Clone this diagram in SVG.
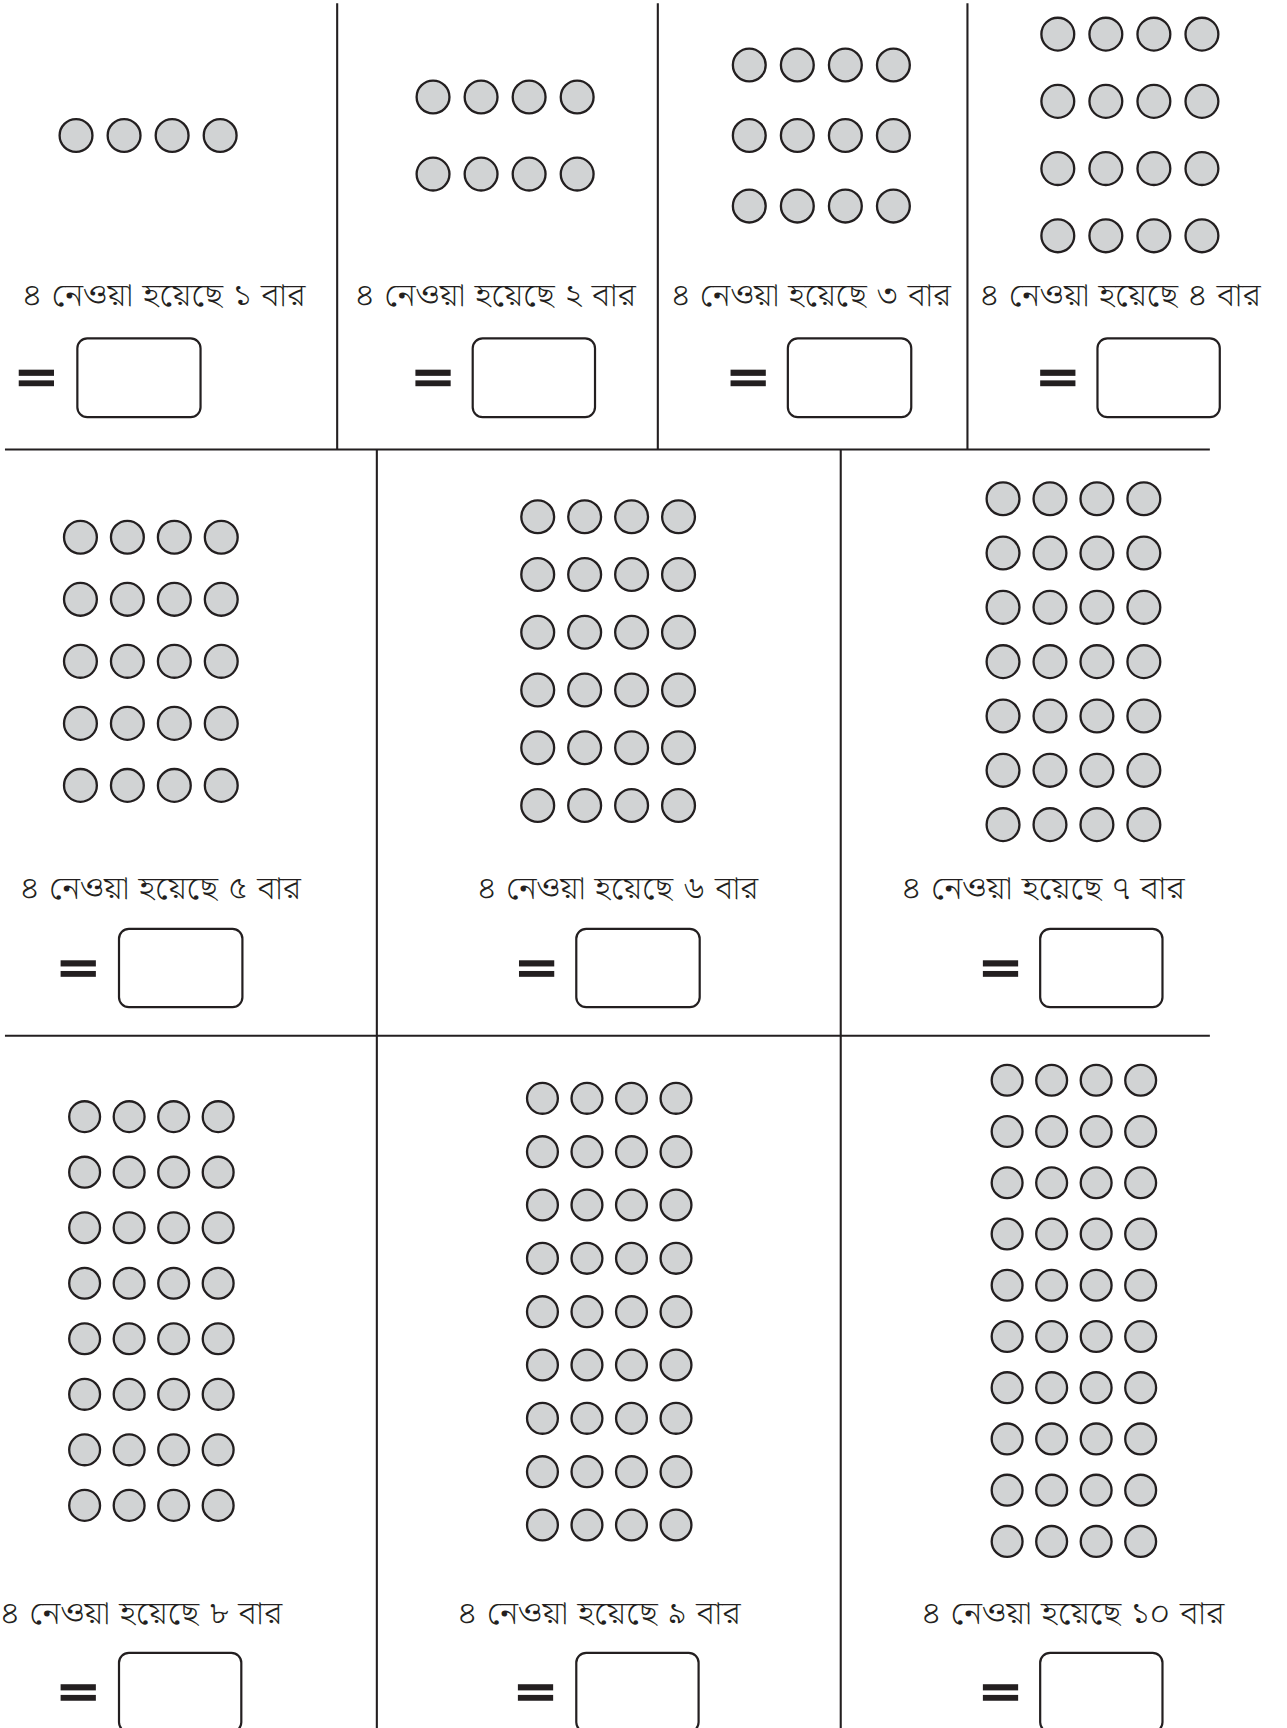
<svg xmlns="http://www.w3.org/2000/svg" xmlns:xlink="http://www.w3.org/1999/xlink" width="1287" height="1728" viewBox="0 0 1287 1728">
<style>
.dot{fill:#d1d3d4;stroke:#231f20;stroke-width:2.1}
.rule{stroke:#231f20;stroke-width:1.9;fill:none}
.box{fill:#ffffff;stroke:#231f20;stroke-width:2}
.eq{fill:#231f20}
.lbl{font-family:"Noto Serif Bengali","Noto Sans Bengali","Lohit Bengali","FreeSerif","Noto Sans","DejaVu Sans",sans-serif;font-size:29px;font-weight:300;fill:#231f20}
</style>
<defs>
<g id="rowA"><circle class="dot" cx="0" cy="0" r="14.9"/><circle class="dot" cx="43.6" cy="0" r="14.9"/><circle class="dot" cx="87.2" cy="0" r="14.9"/><circle class="dot" cx="130.8" cy="0" r="14.9"/></g>
<g id="rowB"><circle class="dot" cx="0" cy="0" r="14.9"/><circle class="dot" cx="42.6" cy="0" r="14.9"/><circle class="dot" cx="85.2" cy="0" r="14.9"/><circle class="dot" cx="127.8" cy="0" r="14.9"/></g>
<g id="rowC"><circle class="dot" cx="0" cy="0" r="14"/><circle class="dot" cx="40.4" cy="0" r="14"/><circle class="dot" cx="80.8" cy="0" r="14"/><circle class="dot" cx="121.2" cy="0" r="14"/></g>
<g id="eqs"><rect class="eq" x="0" y="-9.5" width="32" height="5.6"/><rect class="eq" x="0" y="0.2" width="32" height="5.3"/></g>
</defs>
<rect width="1287" height="1728" fill="#ffffff"/>
<g transform="scale(1.10188)">
<g id="connectors">
<line class="rule" x1="306" y1="3" x2="306" y2="408"/>
<line class="rule" x1="597" y1="3" x2="597" y2="408"/>
<line class="rule" x1="878" y1="3" x2="878" y2="408"/>
<line class="rule" x1="4.5" y1="408" x2="1098" y2="408"/>
<line class="rule" x1="342" y1="408" x2="342" y2="1570"/>
<line class="rule" x1="763" y1="408" x2="763" y2="1570"/>
<line class="rule" x1="4.5" y1="940" x2="1098" y2="940"/>
</g>
<g id="panel1">
<use xlink:href="#rowA" x="69" y="123"/>
<text class="lbl" x="20" y="278" textLength="257" lengthAdjust="spacingAndGlyphs">৪ নেওয়া হয়েছে ১ বার</text>
<use xlink:href="#eqs" x="17" y="345"/>
<rect class="box" x="70.2" y="307" width="111.8" height="71.5" rx="9"/>
</g>
<g id="panel2">
<use xlink:href="#rowA" x="393" y="88"/>
<use xlink:href="#rowA" x="393" y="158"/>
<text class="lbl" x="322" y="278" textLength="255" lengthAdjust="spacingAndGlyphs">৪ নেওয়া হয়েছে ২ বার</text>
<use xlink:href="#eqs" x="377" y="345"/>
<rect class="box" x="429" y="307" width="111" height="71.5" rx="9"/>
</g>
<g id="panel3">
<use xlink:href="#rowA" x="680" y="59"/>
<use xlink:href="#rowA" x="680" y="123"/>
<use xlink:href="#rowA" x="680" y="187"/>
<text class="lbl" x="609" y="278" textLength="254" lengthAdjust="spacingAndGlyphs">৪ নেওয়া হয়েছে ৩ বার</text>
<use xlink:href="#eqs" x="663" y="345"/>
<rect class="box" x="715" y="307" width="112" height="71.5" rx="9"/>
</g>
<g id="panel4">
<use xlink:href="#rowA" x="960" y="31"/>
<use xlink:href="#rowA" x="960" y="92"/>
<use xlink:href="#rowA" x="960" y="153"/>
<use xlink:href="#rowA" x="960" y="214"/>
<text class="lbl" x="889" y="278" textLength="255" lengthAdjust="spacingAndGlyphs">৪ নেওয়া হয়েছে ৪ বার</text>
<use xlink:href="#eqs" x="944" y="345"/>
<rect class="box" x="996" y="307" width="111" height="71.5" rx="9"/>
</g>
<g id="panel5">
<use xlink:href="#rowB" x="73" y="487.6"/>
<use xlink:href="#rowB" x="73" y="543.9"/>
<use xlink:href="#rowB" x="73" y="600.2"/>
<use xlink:href="#rowB" x="73" y="656.5"/>
<use xlink:href="#rowB" x="73" y="712.8"/>
<text class="lbl" x="18" y="816" textLength="255" lengthAdjust="spacingAndGlyphs">৪ নেওয়া হয়েছে ৫ বার</text>
<use xlink:href="#eqs" x="55" y="881"/>
<rect class="box" x="108" y="843" width="112" height="71" rx="9"/>
</g>
<g id="panel6">
<use xlink:href="#rowB" x="488" y="469"/>
<use xlink:href="#rowB" x="488" y="521.4"/>
<use xlink:href="#rowB" x="488" y="573.8"/>
<use xlink:href="#rowB" x="488" y="626.2"/>
<use xlink:href="#rowB" x="488" y="678.6"/>
<use xlink:href="#rowB" x="488" y="731"/>
<text class="lbl" x="433" y="816" textLength="255" lengthAdjust="spacingAndGlyphs">৪ নেওয়া হয়েছে ৬ বার</text>
<use xlink:href="#eqs" x="471" y="881"/>
<rect class="box" x="523" y="843" width="112" height="71" rx="9"/>
</g>
<g id="panel7">
<use xlink:href="#rowB" x="910.3" y="452.6"/>
<use xlink:href="#rowB" x="910.3" y="501.9"/>
<use xlink:href="#rowB" x="910.3" y="551.2"/>
<use xlink:href="#rowB" x="910.3" y="600.5"/>
<use xlink:href="#rowB" x="910.3" y="649.8"/>
<use xlink:href="#rowB" x="910.3" y="699.1"/>
<use xlink:href="#rowB" x="910.3" y="748.4"/>
<text class="lbl" x="818" y="816" textLength="257" lengthAdjust="spacingAndGlyphs">৪ নেওয়া হয়েছে ৭ বার</text>
<use xlink:href="#eqs" x="892" y="881"/>
<rect class="box" x="944" y="843" width="111" height="71" rx="9"/>
</g>
<g id="panel8">
<use xlink:href="#rowC" x="76.8" y="1013.4"/>
<use xlink:href="#rowC" x="76.8" y="1063.8"/>
<use xlink:href="#rowC" x="76.8" y="1114.2"/>
<use xlink:href="#rowC" x="76.8" y="1164.6"/>
<use xlink:href="#rowC" x="76.8" y="1215"/>
<use xlink:href="#rowC" x="76.8" y="1265.4"/>
<use xlink:href="#rowC" x="76.8" y="1315.8"/>
<use xlink:href="#rowC" x="76.8" y="1366.2"/>
<text class="lbl" x="0" y="1474" textLength="256" lengthAdjust="spacingAndGlyphs">৪ নেওয়া হয়েছে ৮ বার</text>
<use xlink:href="#eqs" x="55" y="1538"/>
<rect class="box" x="108" y="1500" width="111" height="72" rx="9"/>
</g>
<g id="panel9">
<use xlink:href="#rowC" x="492.3" y="996.8"/>
<use xlink:href="#rowC" x="492.3" y="1045.2"/>
<use xlink:href="#rowC" x="492.3" y="1093.6"/>
<use xlink:href="#rowC" x="492.3" y="1142"/>
<use xlink:href="#rowC" x="492.3" y="1190.4"/>
<use xlink:href="#rowC" x="492.3" y="1238.8"/>
<use xlink:href="#rowC" x="492.3" y="1287.2"/>
<use xlink:href="#rowC" x="492.3" y="1335.6"/>
<use xlink:href="#rowC" x="492.3" y="1384"/>
<text class="lbl" x="415" y="1474" textLength="257" lengthAdjust="spacingAndGlyphs">৪ নেওয়া হয়েছে ৯ বার</text>
<use xlink:href="#eqs" x="470" y="1538"/>
<rect class="box" x="523" y="1500" width="111" height="72" rx="9"/>
</g>
<g id="panel10">
<use xlink:href="#rowC" x="914" y="980.4"/>
<use xlink:href="#rowC" x="914" y="1026.9"/>
<use xlink:href="#rowC" x="914" y="1073.4"/>
<use xlink:href="#rowC" x="914" y="1119.9"/>
<use xlink:href="#rowC" x="914" y="1166.4"/>
<use xlink:href="#rowC" x="914" y="1212.9"/>
<use xlink:href="#rowC" x="914" y="1259.4"/>
<use xlink:href="#rowC" x="914" y="1305.9"/>
<use xlink:href="#rowC" x="914" y="1352.4"/>
<use xlink:href="#rowC" x="914" y="1398.9"/>
<text class="lbl" x="836" y="1474" textLength="275" lengthAdjust="spacingAndGlyphs">৪ নেওয়া হয়েছে ১০ বার</text>
<use xlink:href="#eqs" x="892" y="1538"/>
<rect class="box" x="944" y="1500" width="111" height="72" rx="9"/>
</g>
</g>
</svg>
